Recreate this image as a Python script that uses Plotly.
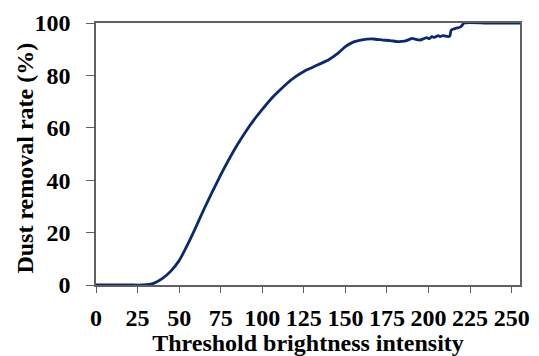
import plotly.graph_objects as go

threshold = [0, 10, 20, 28, 32, 35, 40, 45, 50, 55, 60, 65, 70, 75, 80, 85, 90, 95,
             100, 105, 110, 115, 120, 125, 130, 135, 140, 145, 150, 155, 160, 166.7,
             172.5, 177, 181.3, 184, 186.2, 188, 190.1, 192, 195, 197, 198.9, 200.5,
             201.9, 203.5, 205.8, 207, 208.7, 210, 211.7, 212.8, 213.6, 216.5, 218,
             219.5, 221.4, 235, 255]
removal = [0, 0, 0, 0, 0.2, 0.7, 2.5, 5.3, 9.3, 15.3, 22.0, 29.0, 35.6, 42.0, 48.0,
           53.5, 58.5, 63.0, 67.0, 70.8, 74.0, 77.0, 79.5, 81.5, 83.0, 84.5, 86.0,
           88.2, 91.0, 92.8, 93.6, 93.9, 93.5, 93.3, 92.9, 93.0, 93.2, 93.6, 94.1,
           93.8, 93.5, 94.0, 94.4, 94.0, 94.8, 94.5, 95.2, 94.8, 95.2, 95.0, 94.8,
           95.0, 97.3, 98.0, 98.2, 98.6, 100.0, 100, 100]

x_ticks = [0, 25, 50, 75, 100, 125, 150, 175, 200, 225, 250]
y_ticks = [0, 20, 40, 60, 80, 100]

font_family = "Liberation Serif, Times New Roman, serif"

fig = go.Figure()
fig.add_trace(go.Scatter(
    x=threshold, y=removal, mode="lines",
    line=dict(color="#0b2a6e", width=2.8, shape="spline", smoothing=0.6),
    cliponaxis=False, showlegend=False,
))

axis_common = dict(
    showgrid=False, zeroline=False, showline=True, linecolor="#606060", linewidth=1.5,
    mirror=True, ticks="outside", tickcolor="#606060", tickwidth=1.2,
    tickfont=dict(family=font_family, size=24, color="black"),
)

fig.update_layout(
    width=539, height=356,
    margin=dict(l=96, r=9, t=23, b=71),
    paper_bgcolor="white", plot_bgcolor="white",
    font=dict(family=font_family, color="black"),
    xaxis=dict(
        range=[0, 255], tickvals=x_ticks,
        ticktext=["<b>%d</b>" % v for v in x_ticks],
        ticklen=6, ticklabelstandoff=4,
        title=dict(text="<b>Threshold brightness intensity</b>",
                   font=dict(family=font_family, size=24), standoff=0),
        **axis_common,
    ),
    yaxis=dict(
        range=[0, 100], tickvals=y_ticks,
        ticktext=["<b>%d</b>" % v for v in y_ticks],
        ticklen=8, ticklabelstandoff=11,
        **axis_common,
    ),
    annotations=[dict(
        text="<b>Dust removal rate (%)</b>", textangle=-90,
        xref="paper", yref="paper", x=(23 - 96) / 434, y=0.485,
        xanchor="center", yanchor="middle", showarrow=False,
        font=dict(family=font_family, size=24, color="black"),
    )],
)

fig.write_html("out.html")
